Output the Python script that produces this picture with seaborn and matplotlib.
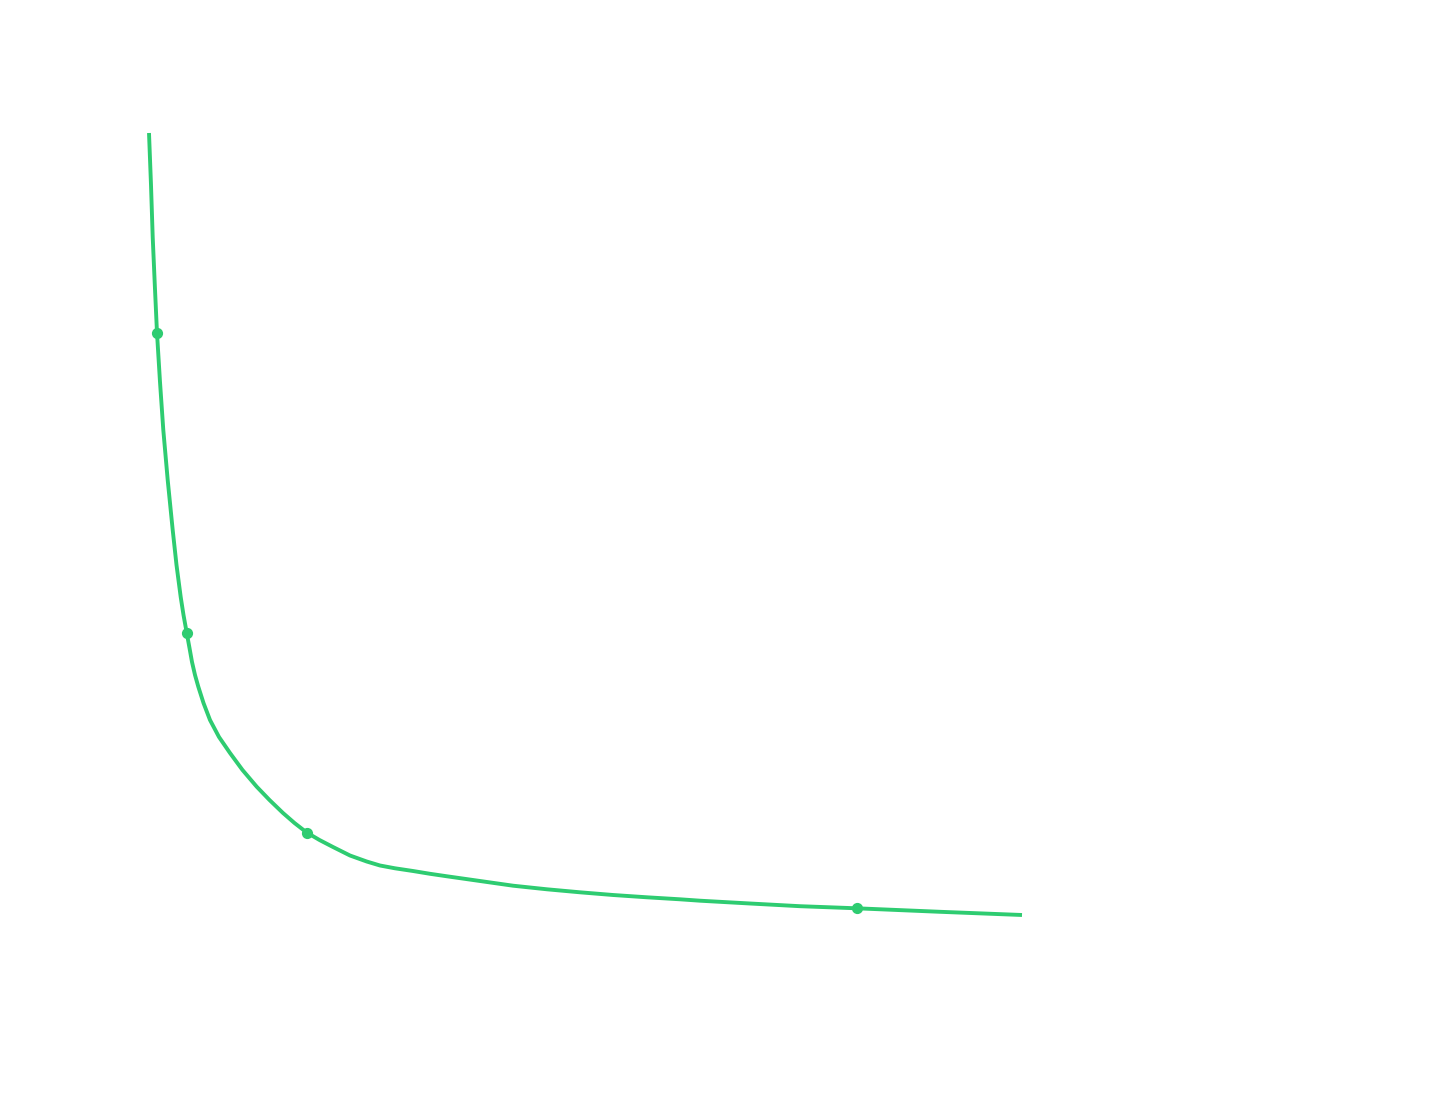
import matplotlib
matplotlib.use("Agg")
import matplotlib.pyplot as plt
import seaborn as sns
import pandas as pd

# Curve samples (x = quantity, y = value)
curve_x = [0.9, 1.1, 1.27, 1.48, 1.7, 2.0, 2.33, 2.77, 3.27, 3.65, 4.07, 4.35, 4.67,
           4.95, 5.2, 5.5, 5.83, 6.35, 7.0, 7.9, 9.0, 10.25, 11.67, 12.95, 14.3, 15.45,
           16.67, 17.95, 19.3, 21.0, 22.67, 24.0, 25.5, 27.3, 29.0, 30.7, 34.0, 37.3,
           40.7, 44.0, 47.3, 50.7, 54.0, 56.0, 61.0, 66.0, 71.67, 80.0, 88.2]
curve_y = [86.7, 81.5, 76.3, 71.5, 66.7, 61.8, 57.0, 52.0, 47.0, 43.5, 40.3, 38.5, 36.73,
           35.2, 33.8, 32.5, 31.33, 29.7, 28.0, 26.3, 24.7, 23.0, 21.33, 20.0, 18.7, 17.7,
           16.75, 16.0, 15.3, 14.45, 13.85, 13.45, 13.17, 12.9, 12.62, 12.37, 11.9, 11.43,
           11.07, 10.77, 10.5, 10.27, 10.07, 9.93, 9.65, 9.38, 9.17, 8.82, 8.5]

# Highlighted points
point_x = [1.7, 4.67, 16.67, 71.67]
point_y = [66.7, 36.73, 16.75, 9.17]

sns.set_theme(style="white")

df_curve = pd.DataFrame({"x": curve_x, "y": curve_y})
df_pts = pd.DataFrame({"x": point_x, "y": point_y})

fig = plt.figure(figsize=(14.4, 11.2), dpi=100)
fig.patch.set_facecolor("white")
ax = fig.add_axes([140 / 1440, 120 / 1120, 1200 / 1440, 900 / 1120])

color = "#2ecc71"
sns.lineplot(data=df_curve, x="x", y="y", ax=ax, color=color, linewidth=2.8, sort=False,
             solid_joinstyle="round", solid_capstyle="butt")
sns.scatterplot(data=df_pts, x="x", y="y", ax=ax, color=color, s=65, edgecolor=color,
                linewidth=0, zorder=3)

ax.set_xlim(0, 120)
ax.set_ylim(0, 90)
ax.axis("off")

fig.savefig("out.png", dpi=100, facecolor="white")
